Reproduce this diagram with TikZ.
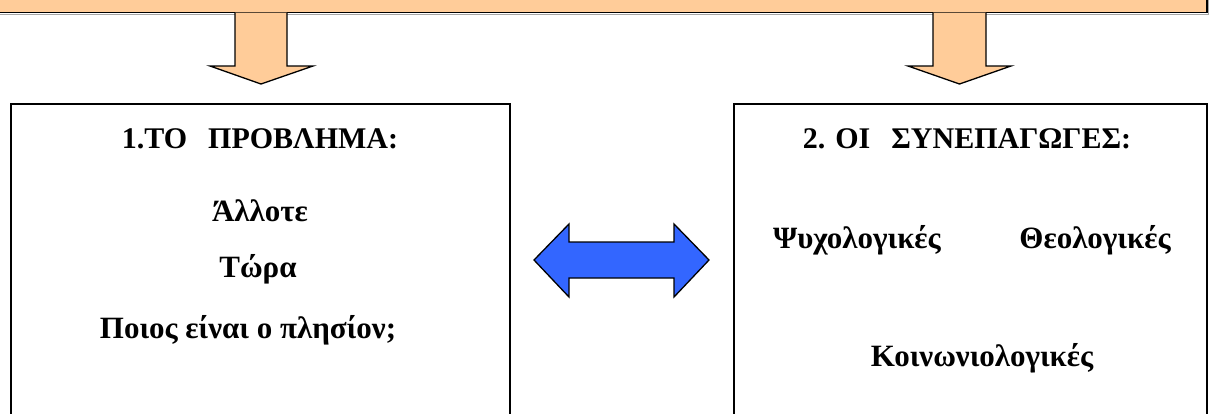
\documentclass[tikz,border=0pt]{standalone}
\usepackage{fontspec}
\setmainfont{Liberation Serif}
\begin{document}
\begin{tikzpicture}[x=1pt,y=-1pt,
  peach/.style={fill=arrowpeach,draw=black,line width=1.3pt,line join=miter},
  bluearrow/.style={fill=arrowblue,draw=black,line width=1.3pt,line join=miter},
  panel/.style={draw=black,line width=1.6pt,fill=white},
  txt/.style={font=\fontsize{31}{36}\selectfont\bfseries,anchor=base,inner sep=0pt},
  ttl/.style={font=\fontsize{30}{35}\selectfont\bfseries,anchor=base,inner sep=0pt}]
\definecolor{arrowpeach}{HTML}{FFCC99}
\definecolor{arrowblue}{HTML}{3366FF}
\useasboundingbox (0,0) rectangle (1212,413);
\clip (0,0) rectangle (1212,413);
% top banner
\draw[gray!70,line width=1.2pt] (0,14.2) -- (1208.5,14.2) -- (1208.5,-5);
\draw[peach,line width=1.6pt] (-5,-5) rectangle (1207,12.5);
% down arrows
\draw[peach] (235,12.5) -- (235,66) -- (210,66) -- (261,84) -- (313,66) -- (287,66) -- (287,12.5);
\draw[peach] (933,12.5) -- (933,66) -- (908,66) -- (959.5,84) -- (1011,66) -- (986,66) -- (986,12.5);
% panels
\draw[panel] (11,104) rectangle (510,425);
\draw[panel] (734,104) rectangle (1207,425);
% double arrow
\draw[bluearrow] (534,260) -- (569,224) -- (569,242) -- (674,242) -- (674,224) -- (709,260)
  -- (674,297) -- (674,278) -- (569,278) -- (569,297) -- cycle;
% texts
\node[ttl] (t1) at (260,148) {1.ΤΟ\hspace{0.7em}ΠΡΟΒΛΗΜΑ:};
\node[txt] (a1) at (260,221) {Άλλοτε};
\node[txt] (a2) at (258,277) {Τώρα};
\node[txt] (a3) at (248,338) {Ποιος είναι ο πλησίον;};
\node[ttl] (t2) at (967,148) {2. ΟΙ\hspace{0.7em}ΣΥΝΕΠΑΓΩΓΕΣ:};
\node[txt] (b1) at (857,248) {Ψυχολογικές};
\node[txt] (b2) at (1095,248) {Θεολογικές};
\node[txt] (b3) at (982,366) {Κοινωνιολογικές};
\end{tikzpicture}
\end{document}
